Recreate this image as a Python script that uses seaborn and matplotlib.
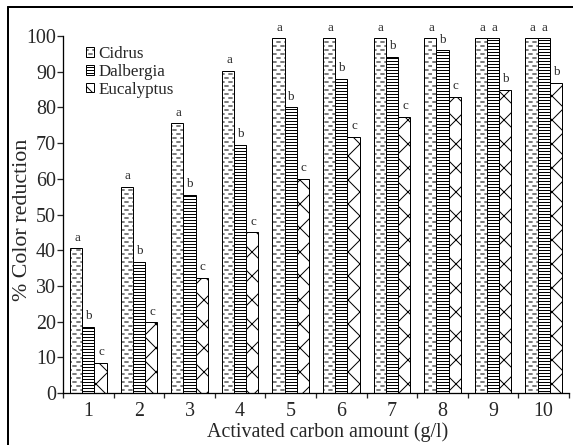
import numpy as np
import pandas as pd
import matplotlib
matplotlib.use("Agg")
import matplotlib.pyplot as plt
import matplotlib.hatch as mhatch
from matplotlib.path import Path
from matplotlib.patches import Patch
from matplotlib.lines import Line2D
import seaborn as sns

# ---------------- data ----------------
amounts = ["1", "2", "3", "4", "5", "6", "7", "8", "9", "10"]
species = ["Cidrus", "Dalbergia", "Eucalyptus"]
cidrus = [40.5, 57.8, 75.5, 90.2, 99.3, 99.3, 99.3, 99.3, 99.3, 99.3]
dalbergia = [18.5, 36.8, 55.5, 69.5, 80.0, 88.0, 94.2, 96.0, 99.3, 99.3]
eucalyptus = [8.5, 19.8, 32.3, 45.0, 60.0, 71.8, 77.3, 83.0, 85.0, 86.8]
letters_cidrus = ["a"] * 10
letters_dalbergia = ["b"] * 8 + ["a", "a"]
letters_eucalyptus = ["c"] * 8 + ["b", "b"]
y_ticks = [0, 10, 20, 30, 40, 50, 60, 70, 80, 90, 100]

df = pd.DataFrame({
    "amount": amounts * 3,
    "species": np.repeat(species, len(amounts)),
    "value": cidrus + dalbergia + eucalyptus,
})


# ------------- custom dashed hatch (replaces the '*' star hatch) -------------
class DashHatch(mhatch.HatchPatternBase):
    def __init__(self, hatch, density):
        n = hatch.count("*")
        self.rows = 18 if n else 0
        self.per_row = 9
        self.num_vertices = self.rows * self.per_row * 2

    def set_vertices_and_codes(self, vertices, codes):
        k = 0
        for r in range(self.rows):
            y = (r + 0.5) / self.rows
            off = 0.0 if r % 2 == 0 else 0.5
            for c in range(self.per_row):
                x0 = (c + off + 0.1) / self.per_row
                x1 = x0 + 0.42 / self.per_row
                vertices[k] = (x0, y)
                vertices[k + 1] = (x1, y)
                codes[k] = Path.MOVETO
                codes[k + 1] = Path.LINETO
                k += 2


mhatch._hatch_types = [DashHatch if t is mhatch.Stars else t for t in mhatch._hatch_types]

# ---------------- style ----------------
sns.set_style("ticks")
plt.rcParams["font.family"] = ["Liberation Serif", "DejaVu Serif"]
plt.rcParams["hatch.linewidth"] = 1.0
plt.rcParams["hatch.color"] = "black"

DPI = 72
fig = plt.figure(figsize=(573 / DPI, 445 / DPI), dpi=DPI)
ax = fig.add_axes([63 / 573, 52 / 445, 506 / 573, 357 / 445])

sns.barplot(data=df, x="amount", y="value", hue="species", order=amounts,
            hue_order=species, palette=["white"] * 3, saturation=1,
            edgecolor="black", linewidth=1.0, width=0.72, gap=0,
            legend=False, ax=ax, errorbar=None)

hatches = ["*", "----", "x"]
hatch_colors = ["#555555", "black", "black"]
for cont, h, hc in zip(ax.containers, hatches, hatch_colors):
    for bar in cont:
        bar.set_hatch(h)
        bar.set_facecolor("white")
        bar.set_edgecolor("black")
        if hasattr(bar, "set_hatchcolor"):
            bar.set_hatchcolor(hc)

# letters above bars
all_letters = [letters_cidrus, letters_dalbergia, letters_eucalyptus]
for cont, lets in zip(ax.containers, all_letters):
    for bar, t in zip(cont, lets):
        xc = bar.get_x() + bar.get_width() / 2
        ax.text(xc + 0.02, bar.get_height() + 1.3, t, ha="center", va="bottom",
                fontsize=13, clip_on=False)

ax.set_ylim(0, 100)
ax.set_xlim(-0.5, 9.5)
ax.set_yticks(y_ticks)
ax.set_yticklabels([str(v) for v in y_ticks])
ax.set_xticks(np.arange(len(amounts)))
ax.set_xticklabels(amounts)
ax.set_xticks(np.arange(-0.5, len(amounts)), minor=True)
ax.tick_params(axis="x", which="major", length=0, pad=9, labelsize=20)
ax.tick_params(axis="x", which="minor", length=5, width=1.3, direction="out")
ax.tick_params(axis="y", which="major", length=6, width=1.3, direction="out",
               labelsize=20, pad=1)
for s in ["top", "right"]:
    ax.spines[s].set_visible(False)
for s in ["left", "bottom"]:
    ax.spines[s].set_linewidth(1.3)
    ax.spines[s].set_color("black")

ax.set_xlabel("Activated carbon amount (g/l)", fontsize=20)
ax.set_ylabel("% Color reduction", fontsize=22)
ax.xaxis.set_label_coords(265 / 506, -29 / 357)
ax.yaxis.set_label_coords(-31 / 506, 173 / 357)

handles = [Patch(facecolor="white", edgecolor="black", hatch=h, label=s)
           for h, s in zip(hatches, species)]
for p, hc in zip(handles, hatch_colors):
    if hasattr(p, "set_hatchcolor"):
        p.set_hatchcolor(hc)
ax.legend(handles=handles, loc="upper left", bbox_to_anchor=(0.025, 1.0),
          frameon=False, fontsize=17, handlelength=0.5, handleheight=0.5,
          handletextpad=0.25, labelspacing=0.1, borderaxespad=0.2)

# figure border (left and top only visible)
fig.add_artist(Line2D([8 / 573, 8 / 573], [0, 1 - 7 / 445], color="black",
                      lw=2, transform=fig.transFigure))
fig.add_artist(Line2D([8 / 573, 1], [1 - 7 / 445, 1 - 7 / 445], color="black",
                      lw=2, transform=fig.transFigure))

fig.savefig("out.png", dpi=DPI)
